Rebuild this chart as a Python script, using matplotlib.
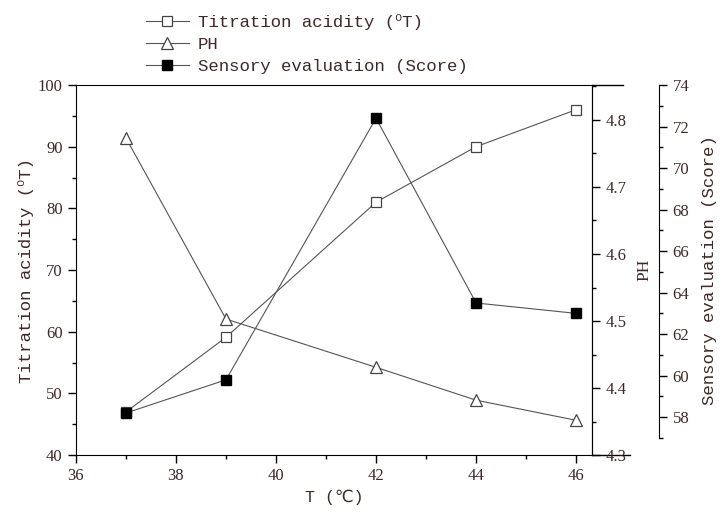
import numpy as np
import matplotlib
matplotlib.use("Agg")
import matplotlib.pyplot as plt
from matplotlib.ticker import MultipleLocator

# data
temp = [37, 39, 42, 44, 46]
acidity = [47.0, 59.1, 81.0, 90.0, 96.0]
ph = [4.773, 4.503, 4.431, 4.382, 4.352]
sensory = [58.2, 59.8, 72.4, 63.5, 63.0]

txt = '#402828'
lab_font = ['Liberation Mono', 'DejaVu Sans']
num_font = 'Liberation Serif'
line_col = '#555555'

plt.rcParams['font.family'] = lab_font
plt.rcParams['font.size'] = 12

fig = plt.figure(figsize=(7.23, 5.12), dpi=100)
ax = fig.add_axes([0.105, 0.111, 0.714, 0.723])
ax2 = ax.twinx()
ax3 = ax.twinx()
ax3.spines['right'].set_position(('axes', 1.13))

l1, = ax.plot(temp, acidity, color=line_col, lw=0.8, marker='s', ms=6.5,
              mfc='white', mec='#444444', mew=0.9)
l2, = ax2.plot(temp, ph, color=line_col, lw=0.8, marker='^', ms=9,
               mfc='white', mec='#444444', mew=0.9)
l3, = ax3.plot(temp, sensory, color=line_col, lw=0.8, marker='s', ms=7,
               mfc='black', mec='black')

ax.set_xlim(36, 46.32)
ax.set_ylim(40, 100)
ax2.set_ylim(4.3, 4.852)
ax3.set_ylim(56.17, 74)
ax3.spines['right'].set_bounds(57, 74)
for s in ['top', 'left', 'bottom']:
    ax3.spines[s].set_visible(False)
    ax2.spines[s].set_visible(False)

ax.xaxis.set_major_locator(MultipleLocator(2))
ax.xaxis.set_minor_locator(MultipleLocator(1))
ax.yaxis.set_major_locator(MultipleLocator(10))
ax.yaxis.set_minor_locator(MultipleLocator(5))
ax2.yaxis.set_major_locator(MultipleLocator(0.1))
ax2.yaxis.set_minor_locator(MultipleLocator(0.05))
ax3.yaxis.set_major_locator(MultipleLocator(2))
ax3.yaxis.set_minor_locator(MultipleLocator(1))

for a in (ax, ax2, ax3):
    a.tick_params(which='major', direction='out', length=6, width=1,
                  labelsize=12, labelcolor=txt)
    a.tick_params(which='minor', direction='out', length=3, width=1)
    for lbl in a.get_xticklabels() + a.get_yticklabels():
        lbl.set_fontfamily(num_font)
ax2.set_yticks(np.arange(4.3, 4.85, 0.1))
ax2.set_yticklabels(['4.3', '4.4', '4.5', '4.6', '4.7', '4.8'],
                    fontfamily=num_font)

ax.set_xlabel('T (℃)', color=txt, fontsize=12, labelpad=4)
ax.set_ylabel('Titration acidity (⁰T)', color=txt, fontsize=12.5, labelpad=3)
ax2.set_ylabel('PH', color=txt, fontsize=12.5, fontfamily=num_font, labelpad=7)
ax3.set_ylabel('Sensory evaluation (Score)', color=txt, fontsize=12.5, labelpad=9)

# frame lines running past the PH axis, as in the original
ax.plot([1.0, 1.06], [1, 1], color='black', lw=1, transform=ax.transAxes, clip_on=False)
ax.plot([1.0, 1.074], [0, 0], color='black', lw=1, transform=ax.transAxes, clip_on=False)

fig.legend([l1, l2, l3],
           ['Titration acidity (⁰T)', 'PH', 'Sensory evaluation (Score)'],
           loc='upper left', bbox_to_anchor=(0.180, 1.004), frameon=False,
           handlelength=2.5, handletextpad=0.5, labelspacing=0.42,
           fontsize=12.5, labelcolor=txt)

fig.savefig('out.png', dpi=100)
